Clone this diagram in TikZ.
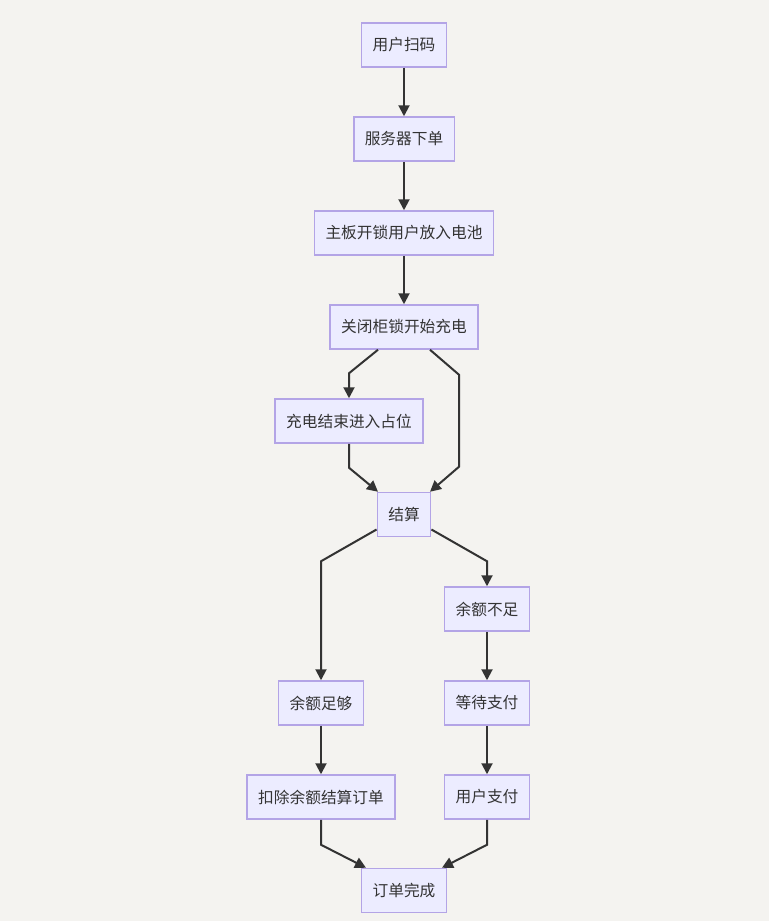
\documentclass[tikz,border=0pt]{standalone}
\usepackage{fontspec}
\setmainfont{Noto Sans CJK SC}
\usetikzlibrary{arrows.meta}
\definecolor{bgc}{HTML}{F4F3F0}
\definecolor{nodefill}{HTML}{ECECFF}
\definecolor{nodeborder}{HTML}{B3A4E6}
\definecolor{edgec}{HTML}{333333}
\definecolor{txtc}{HTML}{333333}
\tikzset{
  box/.style={draw=nodeborder, fill=nodefill, line width=1.5pt, inner xsep=11pt, inner ysep=0pt,
    minimum height=44pt, text=txtc, font=\fontsize{15.7}{18}\selectfont},
  edge/.style={draw=edgec, line width=2pt, -{Triangle[length=11pt,width=11pt]}}
}
\begin{document}
\begin{tikzpicture}[x=1pt,y=-1pt]
\useasboundingbox (0,0) rectangle (769,921);
\fill[bgc] (0,0) rectangle (769,921);
\node[box] (n1) at (404,45) {用户扫码};
\node[box] (n2) at (404,139) {服务器下单};
\node[box] (n3) at (404,233) {主板开锁用户放入电池};
\node[box] (n4) at (404,327) {关闭柜锁开始充电};
\node[box] (n5) at (349,421) {充电结束进入占位};
\node[box] (n6) at (404,514.5) {结算};
\node[box] (n7) at (487,609) {余额不足};
\node[box] (n8) at (321,703) {余额足够};
\node[box] (n9) at (487,703) {等待支付};
\node[box] (n10) at (321,797) {扣除余额结算订单};
\node[box] (n11) at (487,797) {用户支付};
\node[box] (n12) at (404,890.5) {订单完成};

\draw[edge] (n1) -- (n2);
\draw[edge] (n2) -- (n3);
\draw[edge] (n3) -- (n4);
\draw[edge] ([xshift=-26pt]n4.south) -- ([yshift=25pt]n5.north) -- (n5.north);
\draw[edge] ([xshift=26pt]n4.south) -- ([xshift=55pt,yshift=-25pt]n4.south) -- ([xshift=55pt,yshift=25pt]n6.north) -- ([xshift=26pt]n6.north);
\draw[edge] (n5.south) -- ([yshift=-24pt]n5.south) -- ([xshift=-26pt]n6.north);
\draw[edge] ([yshift=-15pt]n6.east) -- ([yshift=25pt]n7.north) -- (n7.north);
\draw[edge] ([yshift=-15pt]n6.west) -- ([yshift=119pt]n8.north) -- (n8.north);
\draw[edge] (n7) -- (n9);
\draw[edge] (n8) -- (n10);
\draw[edge] (n9) -- (n11);
\draw[edge] (n10.south) -- ([yshift=-25pt]n10.south) -- ([xshift=-38pt]n12.north);
\draw[edge] (n11.south) -- ([yshift=-25pt]n11.south) -- ([xshift=38pt]n12.north);
\end{tikzpicture}
\end{document}
